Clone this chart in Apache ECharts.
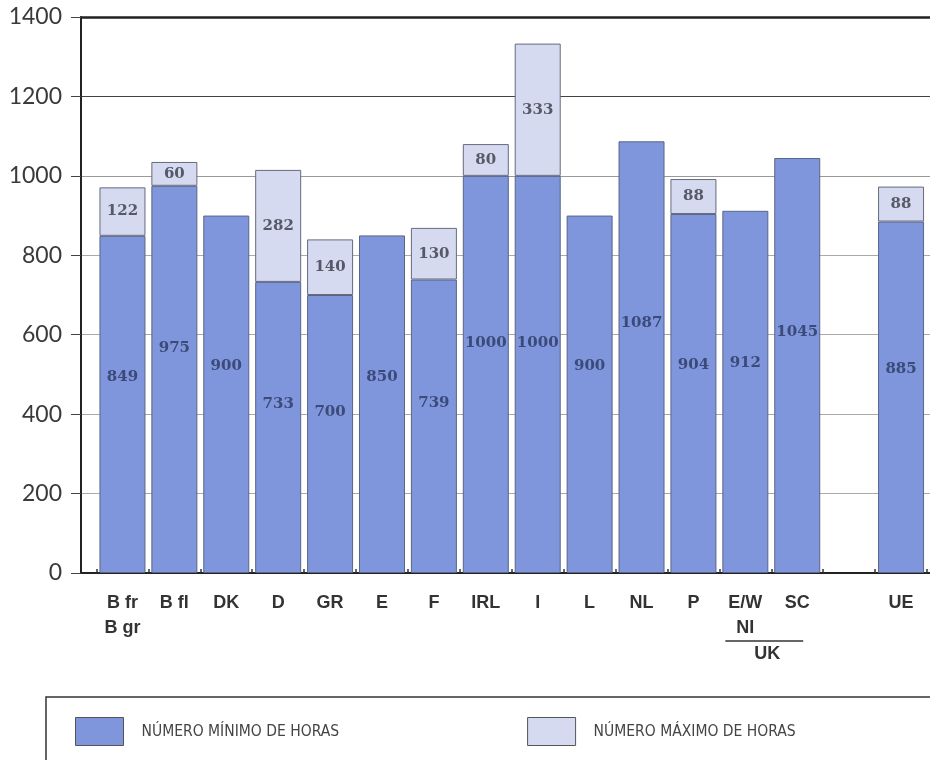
<!DOCTYPE html>
<html>
<head>
<meta charset="utf-8">
<script src="https://cdn.jsdelivr.net/npm/echarts@6/dist/echarts.min.js"></script>
<style>
  html, body { margin: 0; padding: 0; background: #fff; }
  #chart { width: 930px; height: 760px; }
</style>
</head>
<body>
<div id="chart"></div>
<script>
// ---- data ----
var categories = ['B fr\nB gr', 'B fl', 'DK', 'D', 'GR', 'E', 'F', 'IRL', 'I', 'L', 'NL', 'P', 'E/W\nNI', 'SC', '', 'UE'];
var minHours   = [849, 975, 900, 733, 700, 850, 739, 1000, 1000, 900, 1087, 904, 912, 1045, null, 885];
var extraHours = [122, 60, null, 282, 140, null, 130, 80, 333, null, null, 88, null, null, null, 88];
var yTicks = [0, 200, 400, 600, 800, 1000, 1200, 1400];
var seriesNames = ['NÚMERO MÍNIMO DE HORAS', 'NÚMERO MÁXIMO DE HORAS'];
var groupLabel = 'UK';

var chart = echarts.init(document.getElementById('chart'), null, { renderer: 'canvas' });

var yMin = yTicks[0], yMax = yTicks[yTicks.length - 1], yStep = yTicks[1] - yTicks[0];

var option = {
  animation: false,
  backgroundColor: '#ffffff',
  grid: [
    { left: 81, right: 0, top: 17, bottom: 187 },
    { left: 96.5, right: 3, top: 17, bottom: 187 }
  ],
  xAxis: [
    { type: 'value', gridIndex: 0, position: 'bottom', min: 0, max: 1,
      axisLine: { show: true, lineStyle: { color: '#222', width: 2 } },
      axisTick: { show: false }, axisLabel: { show: false }, splitLine: { show: false } },
    { type: 'value', gridIndex: 0, position: 'top', min: 0, max: 1,
      axisLine: { show: true, lineStyle: { color: '#222', width: 2.5 } },
      axisTick: { show: false }, axisLabel: { show: false }, splitLine: { show: false } },
    { type: 'category', gridIndex: 1, data: categories,
      axisLine: { show: false },
      axisTick: { show: true, inside: true, length: 4, lineStyle: { color: '#333', width: 1.5 } },
      axisLabel: { interval: 0, margin: 18, color: '#333', fontFamily: 'Liberation Sans, Arial, sans-serif',
        fontWeight: 'bold', fontSize: 18, lineHeight: 25 } }
  ],
  yAxis: [
    { type: 'value', gridIndex: 0, min: yMin, max: yMax, interval: yStep,
      axisLine: { show: true, lineStyle: { color: '#222', width: 2 } },
      axisTick: { show: true, length: 10, lineStyle: { color: '#444', width: 1 } },
      axisLabel: { margin: 19, color: '#3a3a3a', fontFamily: 'Lato, "Open Sans", sans-serif', fontSize: 23,
        formatter: function (v) { return String(v); } },
      splitLine: { show: true, lineStyle: { width: 1.2,
        color: ['#333', '#aaa', '#aaa', '#aaa', '#aaa', '#999', '#444', '#222'] } } },
    { type: 'value', gridIndex: 1, min: yMin, max: yMax, interval: yStep, show: false,
      splitLine: { show: false } }
  ],
  legend: {
    left: 75, top: 717, padding: 0, itemWidth: 48, itemHeight: 28, itemGap: 188, selectedMode: false,
    icon: 'rect',
    itemStyle: { borderColor: '#555', borderWidth: 1 },
    textStyle: { color: '#444', fontSize: 15.5, padding: [0, 0, 0, 13],
      fontFamily: '"Liberation Sans Narrow", "DejaVu Sans Condensed", "Noto Sans", sans-serif' },
    data: seriesNames
  },
  series: [
    { name: seriesNames[0], type: 'bar', xAxisIndex: 2, yAxisIndex: 1, stack: 'h',
      barWidth: 46, data: minHours,
      itemStyle: { color: '#7f95dc', borderColor: '#5a6585', borderWidth: 1 },
      label: { show: true, position: ['50%', '42%'], align: 'center', verticalAlign: 'middle',
        color: '#3b4a78', fontFamily: '"DejaVu Serif", serif', fontWeight: 'bold', fontSize: 15 } },
    { name: seriesNames[1], type: 'bar', xAxisIndex: 2, yAxisIndex: 1, stack: 'h',
      barWidth: 46, data: extraHours,
      itemStyle: { color: '#d5daf1', borderColor: '#666a7a', borderWidth: 1 },
      label: { show: true, position: 'inside', color: '#555a66',
        fontFamily: '"DejaVu Serif", serif', fontWeight: 'bold', fontSize: 15 } }
  ]
};

chart.setOption(option);

// group annotation (UK under E/W + SC) and legend frame
var xa = chart.convertToPixel({ xAxisIndex: 2 }, categories[12]);
var xb = chart.convertToPixel({ xAxisIndex: 2 }, categories[13]);
var mid = (xa + xb) / 2 - 4;
chart.setOption({
  graphic: [
    { type: 'line', shape: { x1: xa - 20, y1: 641, x2: xb + 6, y2: 641 },
      style: { stroke: '#333', lineWidth: 1.5 } },
    { type: 'text', x: mid, y: 654,
      style: { text: groupLabel, fill: '#333', font: 'bold 18px "Liberation Sans", Arial, sans-serif',
        textAlign: 'center', textVerticalAlign: 'middle' } },
    { type: 'rect', z: -1, shape: { x: 46, y: 697, width: 920, height: 100 },
      style: { fill: 'none', stroke: '#333', lineWidth: 1.5 } }
  ]
});
</script>
</body>
</html>
